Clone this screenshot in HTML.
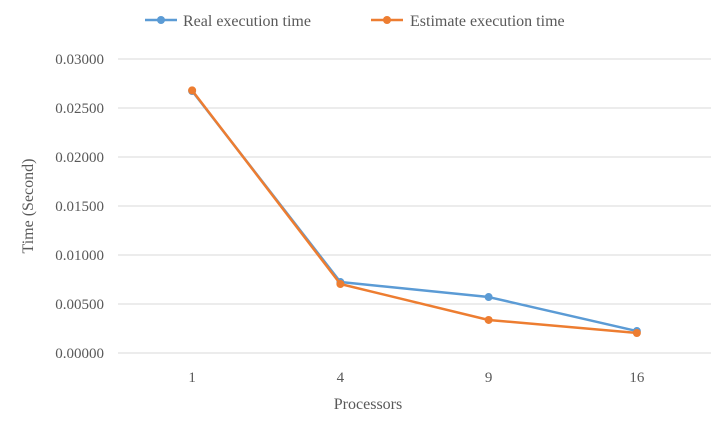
<!DOCTYPE html>
<html><head><meta charset="utf-8"><style>
body{margin:0;background:#fff;}
svg text{font-family:"Liberation Serif",serif;fill:#595959;}
</style></head><body>
<svg id="chart" width="727" height="427" xmlns="http://www.w3.org/2000/svg">
<g id="grid"></g><g id="axes"></g><g id="series"></g>
<g>
 <g>
  <line x1="145" y1="20" x2="177" y2="20" stroke="#5B9BD5" stroke-width="2.5"/>
  <circle cx="161" cy="20" r="4" fill="#5B9BD5"/>
  <text x="183" y="26" font-size="16">Real execution time</text>
 </g>
 <g>
  <line x1="371" y1="20" x2="403" y2="20" stroke="#ED7D31" stroke-width="2.5"/>
  <circle cx="387" cy="20" r="4" fill="#ED7D31"/>
  <text x="410" y="26" font-size="16">Estimate execution time</text>
 </g>
</g>
<text transform="translate(33,206) rotate(-90)" text-anchor="middle" font-size="16">Time (Second)</text>
<text x="368" y="409" text-anchor="middle" font-size="16">Processors</text>
</svg>
<script>
const categories=["1","4","9","16"];
const realValues=[0.02673,0.00724,0.00571,0.00224];
const estimateValues=[0.0268,0.00704,0.00337,0.00204];
const yTicks=[0,0.005,0.01,0.015,0.02,0.025,0.03];
const NS="http://www.w3.org/2000/svg";
const x0=118,x1=711,y0=353,y1=59,yMax=0.03;
function xs(i){return x0+(i+0.5)*(x1-x0)/categories.length;}
function ys(v){return y0-(v/yMax)*(y0-y1);}
function mk(tag,attrs,parent){const e=document.createElementNS(NS,tag);for(const k in attrs)e.setAttribute(k,attrs[k]);parent.appendChild(e);return e;}
const grid=document.getElementById('grid'),axes=document.getElementById('axes'),ser=document.getElementById('series');
yTicks.forEach(t=>{
 const l=mk('line',{x1:x0,x2:x1,y1:ys(t),y2:ys(t),stroke:'#D9D9D9','stroke-width':1},grid);
 
 
 const tx=mk('text',{x:104,y:ys(t)+5,'text-anchor':'end','font-size':'15'},axes);
 tx.textContent=t.toFixed(5);
 
 
});
categories.forEach((c,i)=>{
 const tx=mk('text',{x:xs(i),y:382,'text-anchor':'middle','font-size':'15'},axes);
 tx.textContent=c;
 
 
});
function drawSeries(vals,color,name){
 const p=mk('polyline',{points:vals.map((v,i)=>xs(i)+','+ys(v)).join(' '),fill:'none',stroke:color,'stroke-width':2.5,'stroke-linejoin':'round'},ser);
 
 
 vals.forEach((v,i)=>{
  const c=mk('circle',{cx:xs(i),cy:ys(v),r:4,fill:color},ser);
  
  
 });
}
drawSeries(realValues,'#5B9BD5','real');
drawSeries(estimateValues,'#ED7D31','estimate');
</script>
</body></html>
